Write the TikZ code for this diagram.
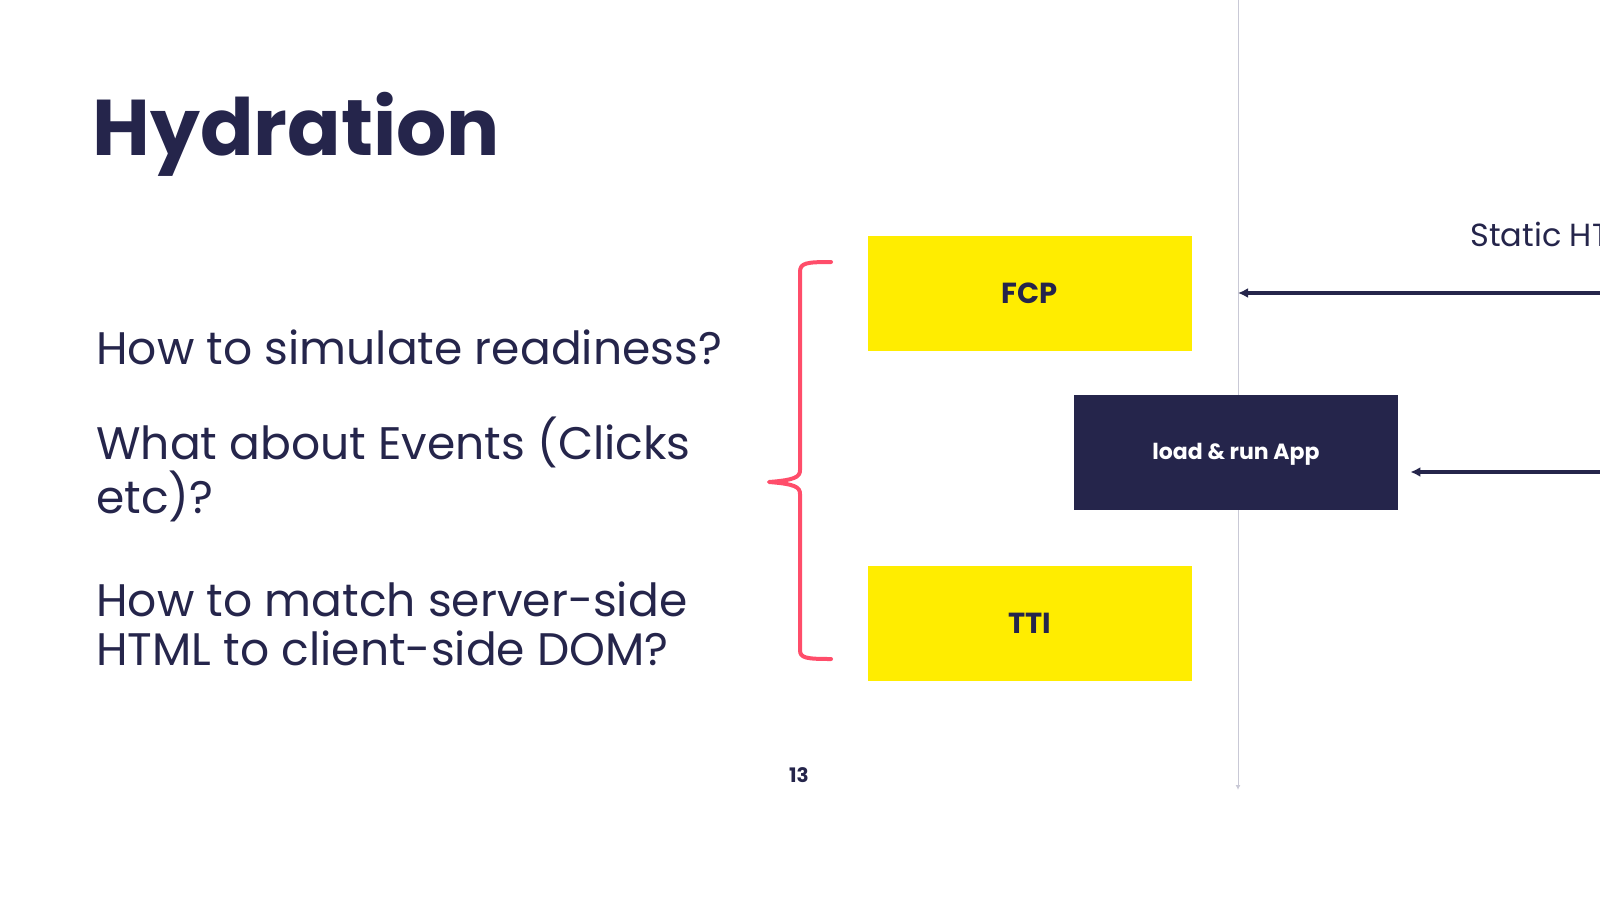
\documentclass[tikz,border=0pt]{standalone}
\usepackage{fontspec}
\setmainfont{Poppins}
\usetikzlibrary{arrows.meta, positioning}
\definecolor{SlideNavy}{HTML}{25254B}
\definecolor{SlideYellow}{HTML}{FFED00}
\definecolor{BraceRed}{HTML}{FF4D6A}
\definecolor{AxisGrey}{HTML}{C9C9D6}

\begin{document}
\begin{tikzpicture}[
    x=0.5pt, y=-0.5pt,
    >=Latex,
    title/.style={anchor=base west, inner sep=0pt, text=SlideNavy, font=\bfseries\fontsize{39.5}{44}\selectfont},
    item/.style={anchor=base west, inner sep=0pt, align=left, text=SlideNavy, font=\fontsize{22.8}{24.5}\selectfont},
    metric/.style={fill=SlideYellow, minimum width=162pt, minimum height=57.5pt, inner sep=0pt, text=SlideNavy, font=\bfseries\fontsize{14.5}{16}\selectfont},
    task/.style={fill=SlideNavy, minimum width=162pt, minimum height=57.5pt, inner sep=0pt, text height=1.6ex, text depth=0.4ex, text=white, font=\bfseries\fontsize{11}{12}\selectfont},
    msg/.style={-{Latex[length=5pt,width=5pt]}, line width=1.7pt, SlideNavy},
    axis/.style={-{Latex[length=2.5pt,width=2.5pt]}, line width=0.5pt, AxisGrey},
    brace/.style={line width=2pt, BraceRed, line cap=round, line join=round},
  ]
  \useasboundingbox (0,0) rectangle (1600,900);
  % ---- title and questions ----
  \node[title] (ttl) at (92,155) {Hydration};
  \node[item] (q1) at (96,364) {How to simulate readiness?};
  \node[item] (q2) at (96,513) {What about Events (Clicks\\etc)?};
  \node[item] (q3) at (96,665) {How to match server-side\\HTML to client-side DOM?};
  % ---- brace ----
  \draw[brace] (831,262) .. controls (806,262) and (800,263) .. (800,272)
    -- (800,470) .. controls (800,477) and (795,480) .. (769,482)
    .. controls (795,484) and (800,487) .. (800,494)
    -- (800,650) .. controls (800,658) and (806,659) .. (831,659);
  % ---- timeline ----
  \coordinate (tlTop) at (1238,0);
  \coordinate (tlEnd) at (1238,790);
  \draw[axis] (tlTop) -- (tlEnd);
  % ---- boxes ----
  \node[metric] (fcp) at (1030,293.5) {FCP};
  \node[task] (run) at (1236,452.5) {load \& run App};
  \node[metric] (tti) at (1030,623) {TTI};
  % ---- server messages ----
  \begin{scope}
    \clip (0,0) rectangle (1600,900);
    \node[anchor=base west, inner sep=0pt, text=SlideNavy, font=\fontsize{16}{20}\selectfont] (shtml) at (1470,246) {Static HTML};
    \coordinate (srvA) at (1605,293);
    \coordinate (srvB) at (1605,472);
    \draw[msg] (srvA) -- (tlTop |- srvA);
    \draw[msg, shorten >=6pt] (srvB) -- (run.east |- srvB);
  \end{scope}
  % ---- page number ----
  \node[text=SlideNavy, font=\bfseries\fontsize{10}{12}\selectfont] (pg) at (799,775) {13};
\end{tikzpicture}
\end{document}
